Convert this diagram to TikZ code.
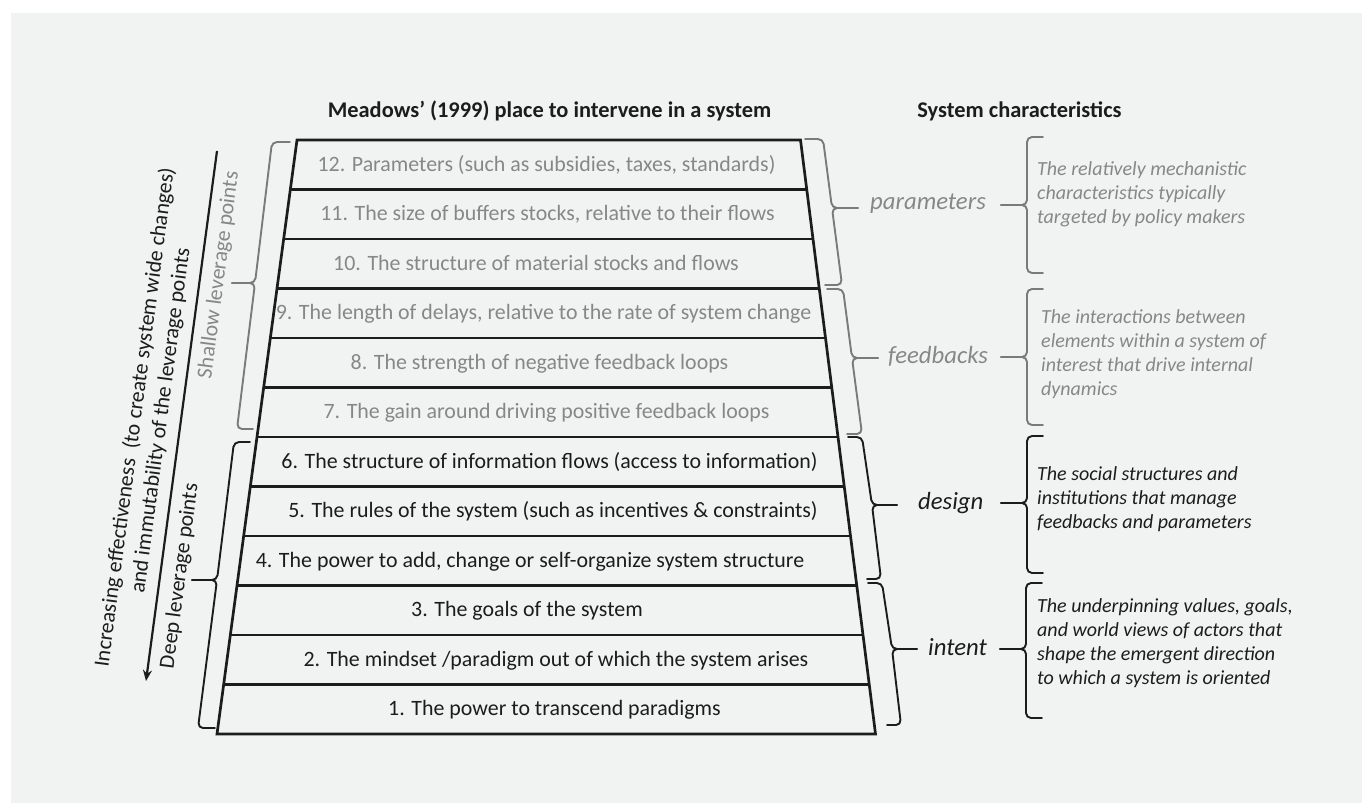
\documentclass[tikz,border=0pt]{standalone}
\usepackage{fontspec}
\setmainfont{Carlito}
\usetikzlibrary{arrows.meta,calc}
\definecolor{bg}{RGB}{241,243,242}
\definecolor{ink}{RGB}{28,28,28}
\definecolor{soft}{RGB}{135,135,135}
\definecolor{softline}{RGB}{122,122,122}

% a curly bracket: colour, top end, top of spine, middle of spine, tip, bottom of spine, bottom end
\newcommand\leverbrace[7]{%
  \draw[brc,#1] (#2) -- (#3) -- (#4) -- (#5);
  \draw[brc,#1] (#5) -- (#4) -- (#6) -- (#7);}

\begin{document}
\begin{tikzpicture}[x=1pt,y=-1pt,
  rowtxt/.style={anchor=base, inner sep=0pt, font=\fontsize{21.9}{26}\selectfont},
  head/.style={anchor=base, inner sep=0pt, text=ink, font=\fontsize{22.4}{27}\selectfont\bfseries},
  lbl/.style={anchor=base west, inner sep=0pt, font=\fontsize{24.7}{29}\selectfont\itshape},
  desc/.style={anchor=base west, inner sep=0pt, font=\fontsize{20}{24}\selectfont\itshape},
  sidetxt/.style={inner sep=0pt, rotate=82.5, font=\fontsize{21.8}{26}\selectfont},
  brc/.style={line width=1.9pt, rounded corners=5pt, line cap=round, line join=round},
  rowline/.style={draw=ink, line width=2.3pt},
  frame/.style={draw=ink, line width=2.7pt, line join=miter},
  arr/.style={draw=ink, line width=2.2pt, -{Stealth[length=11pt,width=9pt]}}
]
\fill[white] (0,0) rectangle (1362,803);
\fill[bg] (11,13) rectangle (1362,803);
\useasboundingbox (0,0) rectangle (1362,803);

% headings
\node[head] (h1) at (549.5,117) {Meadows’ (1999) place to intervene in a system};
\node[head] (h2) at (1019.5,117) {System characteristics};

% the ladder of leverage points
\coordinate (TL) at (297,140);
\coordinate (TR) at (800.5,140);
\coordinate (BR) at (875.5,734);
\coordinate (BL) at (217,734);
\foreach \k in {1,...,11}
  \draw[rowline] ($(TL)!\k/12!(BL)$) -- ($(TR)!\k/12!(BR)$);
\draw[frame] (TL) -- (TR) -- (BR) -- (BL) -- cycle;

\node[rowtxt, text=soft] (r12) at (546.5,171.25) {12. Parameters (such as subsidies, taxes, standards)};
\node[rowtxt, text=soft] (r11) at (547.5,220.75) {11. The size of buffers stocks, relative to their flows};
\node[rowtxt, text=soft] (r10) at (536,270.25) {10. The structure of material stocks and flows};
\node[rowtxt, text=soft] (r9) at (543.5,319.75) {9. The length of delays, relative to the rate of system change};
\node[rowtxt, text=soft] (r8) at (539.5,369.25) {8. The strength of negative feedback loops};
\node[rowtxt, text=soft] (r7) at (546.5,418.75) {7. The gain around driving positive feedback loops};
\node[rowtxt, text=ink] (r6) at (549.5,468.25) {6. The structure of information flows (access to information)};
\node[rowtxt, text=ink] (r5) at (553,517.75) {5. The rules of the system (such as incentives \& constraints)};
\node[rowtxt, text=ink] (r4) at (530,567.25) {4. The power to add, change or self-organize system structure};
\node[rowtxt, text=ink] (r3) at (527,616.75) {3. The goals of the system};
\node[rowtxt, text=ink] (r2) at (556,666.25) {2. The mindset /paradigm out of which the system arises};
\node[rowtxt, text=ink] (r1) at (554.5,715.75) {1. The power to transcend paradigms};

% left side: direction of increasing effectiveness
\coordinate (aTop) at (217,151);
\coordinate (aBot) at (146,681);
\draw[arr] (aTop) -- (aBot);
\node[sidetxt, text=ink, align=center] (eff) at (148,419)
  {Increasing effectiveness\ \ (to create system wide changes)\\ and immutability of the leverage points};
\node[sidetxt, text=soft] (shallow) at (219,275) {Shallow leverage points};
\node[sidetxt, text=ink] (deep) at (180,576) {Deep leverage points};

\leverbrace{softline}{290,142}{272,142}{255,283}{232,283}{237,429}{253,429}
\leverbrace{ink}{250,442}{234,442}{217,580}{192,580}{198,728}{215,728}

% right of the ladder: the four system characteristics
\leverbrace{softline}{805,139}{823,139}{832,208}{858,208}{842,285}{825,285}
\leverbrace{softline}{827,289}{843,289}{852,358}{878,358}{862,434}{847,434}
\leverbrace{ink}{848,437}{862,437}{872,505}{897,505}{881,579}{867,579}
\leverbrace{ink}{868,583}{882,583}{892,649}{917,649}{901,725}{887,725}

\node[lbl, text=soft] (lparam) at (870,209) {parameters};
\node[lbl, text=soft] (lfeed) at (888,363) {feedbacks};
\node[lbl, text=ink] (ldesign) at (918,509) {design};
\node[lbl, text=ink] (lintent) at (928,655) {intent};

\leverbrace{softline}{1043,137}{1027,137}{1027,205}{1001,205}{1027,273}{1043,273}
\leverbrace{softline}{1043,289}{1027,289}{1027,357}{1001,357}{1027,425}{1043,425}
\leverbrace{ink}{1043,436}{1027,436}{1027,503}{1001,503}{1027,573}{1043,573}
\leverbrace{ink}{1042,583}{1026,583}{1026,649}{1000,649}{1026,718}{1042,718}

% descriptions
\node[desc, text=soft] (dparam) at (1037,175) {\parbox[t]{320pt}{\raggedright
  The relatively mechanistic\\ characteristics typically\\ targeted by policy makers}};
\node[desc, text=soft] (dfeed) at (1041,323) {\parbox[t]{320pt}{\raggedright
  The interactions between\\ elements within a system of\\ interest that drive internal\\ dynamics}};
\node[desc, text=ink] (ddesign) at (1037,480) {\parbox[t]{320pt}{\raggedright
  The social structures and\\ institutions that manage\\ feedbacks and parameters}};
\node[desc, text=ink] (dintent) at (1037,612) {\parbox[t]{320pt}{\raggedright
  The underpinning values, goals,\\ and world views of actors that\\ shape the emergent direction\\ to which a system is oriented}};
\end{tikzpicture}
\end{document}
